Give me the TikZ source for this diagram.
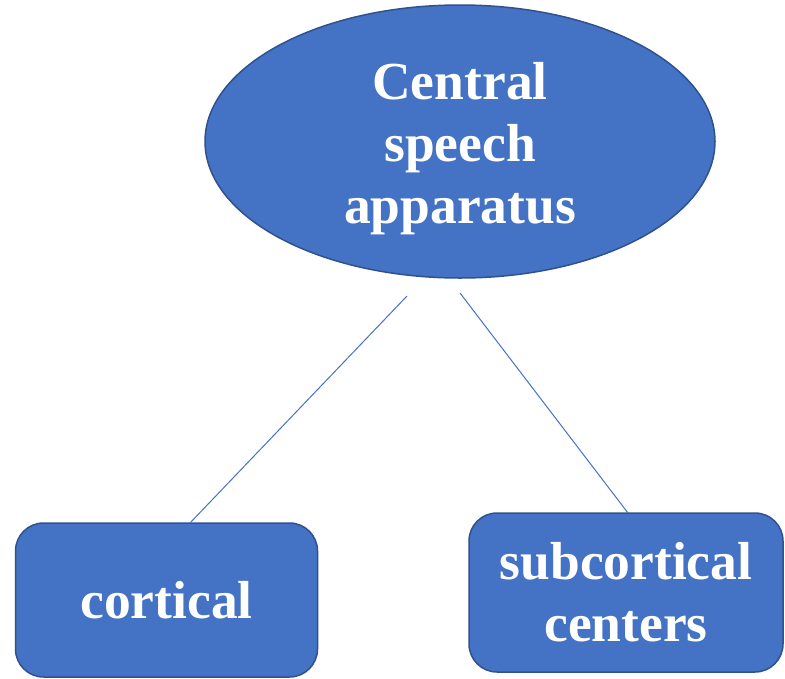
\documentclass[tikz,border=0pt]{standalone}
\usepackage{fontspec}
\setmainfont{Liberation Serif}
\usetikzlibrary{shapes.geometric}
\definecolor{fillblue}{HTML}{4472C4}
\definecolor{edgeblue}{HTML}{2F528F}
\begin{document}
\begin{tikzpicture}[x=1pt,y=-1pt,
  labeltext/.style={inner sep=0pt,text=white,font=\bfseries\fontsize{53.5}{62}\selectfont,align=center},
  shapebase/.style={labeltext,fill=fillblue,draw=edgeblue,line width=1.5pt},
  ovalnode/.style={shapebase,ellipse},
  boxnode/.style={shapebase,rectangle,rounded corners=28pt},
  link/.style={draw=fillblue,line width=1pt}]
\useasboundingbox (0,0) rectangle (785,678);
\node[ovalnode,minimum width=510pt,minimum height=273pt] (central) at (460,141.5) {};
\node[labeltext] (centraltext) at (460,148.5) {Central\\speech\\apparatus};
\node[boxnode,minimum width=302pt,minimum height=154pt] (cortical) at (166.5,600) {cortical};
\node[boxnode,minimum width=314pt,minimum height=159pt] (subcort) at (626,592.5) {subcortical\\centers};
\coordinate (la) at (407,296);
\coordinate (lb) at (190,523);
\coordinate (ra) at (460,293);
\coordinate (rb) at (628,513);
\draw[link] (la) -- (lb);
\draw[link] (ra) -- (rb);
\end{tikzpicture}
\end{document}
